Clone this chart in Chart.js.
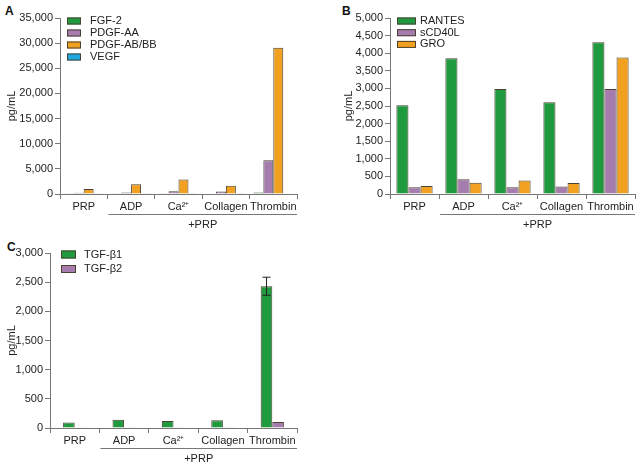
<!DOCTYPE html>
<html>
<head>
<meta charset="utf-8">
<script src="https://cdn.jsdelivr.net/npm/chart.js@4.4.1/dist/chart.umd.min.js"></script>
<style>
body { margin:0; background:#fff; width:639px; height:464px; position:relative; overflow:hidden; font-family:'Liberation Sans', Arial, sans-serif; }
canvas { position:absolute; }
.tag { position:absolute; font-weight:bold; font-size:12px; line-height:14px; color:#111; }
</style>
</head>
<body>
<div class="tag" style="left:5px;top:4px">A</div>
<div class="tag" style="left:342px;top:4px">B</div>
<div class="tag" style="left:7px;top:240px">C</div>
<canvas id="chartA" width="310" height="230" style="left:0;top:0"></canvas>
<canvas id="chartB" width="319" height="230" style="left:320px;top:0"></canvas>
<canvas id="chartC" width="310" height="234" style="left:0;top:230px"></canvas>
<script>
// categories shared by all three panels
var categories = ['PRP', 'ADP', 'Ca\u00B2\u207A', 'Collagen', 'Thrombin'];

// panel A
var fgf2 = [50, 60, 70, 80, 320];
var pdgfAA = [250, 300, 550, 520, 6700];
var pdgfABBB = [1000, 1950, 2900, 1650, 29100];
var vegf = [40, 50, 50, 60, 120];

// panel B
var rantes = [2520, 3860, 2980, 2610, 4310];
var scd40l = [190, 420, 190, 210, 2980];
var gro = [230, 320, 380, 310, 3880];

// panel C
var tgfb1 = [95, 140, 120, 135, 2430];
var tgfb1Err = [0, 0, 0, 0, 155];
var tgfb2 = [15, 15, 12, 12, 105];

var GREEN = '#1f9a3f', PURPLE = '#a67bae', ORANGE = '#f1a11f', BLUE = '#1fa9e1';
var EDGE = '#4a4232';
var AXIS = '#777';
var TEXT = '#222';

Chart.defaults.font.family = "'Liberation Sans', Arial, sans-serif";
Chart.defaults.font.size = 11;
Chart.defaults.color = TEXT;

function ds(label, data, color) {
    return { label: label, data: data, backgroundColor: color, borderColor: EDGE, borderWidth: 1 };
}

// legend drawn inside the plot, top left, small flat boxes
function boxLegend(cfg) {
    return {
        id: 'boxLegend',
        afterDraw: function(chart) {
            var ctx = chart.ctx, area = chart.chartArea;
            ctx.save();
            ctx.font = "11px 'Liberation Sans', Arial, sans-serif";
            ctx.textBaseline = 'middle';
            chart.data.datasets.forEach(function(d, i) {
                var cy = area.top + cfg.rowY + i * cfg.gap;
                var bx = area.left + cfg.boxX;
                ctx.fillStyle = d.backgroundColor;
                ctx.fillRect(bx, cy - cfg.boxH / 2, cfg.boxW, cfg.boxH);
                ctx.strokeStyle = EDGE;
                ctx.lineWidth = 1;
                ctx.strokeRect(bx + 0.5, cy - cfg.boxH / 2 + 0.5, cfg.boxW - 1, cfg.boxH - 1);
                ctx.fillStyle = TEXT;
                ctx.fillText(d.label, area.left + cfg.textX, cy);
            });
            ctx.restore();
        }
    };
}

// line under the stimulated groups with "+PRP"
var prpBracket = {
    id: 'prpBracket',
    afterDraw: function(chart) {
        var ctx = chart.ctx, area = chart.chartArea, x = chart.scales.x;
        var half = (x.getPixelForValue(1) - x.getPixelForValue(0)) / 2;
        var x0 = x.getPixelForValue(1) - half + 1;
        var x1 = area.right;
        var y = Math.round(area.bottom + 20) + 0.5;
        ctx.save();
        ctx.strokeStyle = AXIS;
        ctx.lineWidth = 1;
        ctx.beginPath();
        ctx.moveTo(x0, y);
        ctx.lineTo(x1, y);
        ctx.stroke();
        ctx.fillStyle = TEXT;
        ctx.font = "11px 'Liberation Sans', Arial, sans-serif";
        ctx.textAlign = 'center';
        ctx.textBaseline = 'middle';
        ctx.fillText('+PRP', (x0 + x1) / 2, y + 10);
        ctx.restore();
    }
};

// error bars from a dataset's "errors" array
var errorBars = {
    id: 'errorBars',
    afterDatasetsDraw: function(chart) {
        var ctx = chart.ctx, yScale = chart.scales.y;
        chart.data.datasets.forEach(function(d, i) {
            if (!d.errors) return;
            var meta = chart.getDatasetMeta(i);
            meta.data.forEach(function(bar, j) {
                var e = d.errors[j];
                if (!e) return;
                var top = yScale.getPixelForValue(d.data[j] + e);
                var bot = yScale.getPixelForValue(d.data[j] - e);
                var bx = Math.round(bar.x) + 0.5;
                ctx.save();
                ctx.strokeStyle = '#222';
                ctx.lineWidth = 1;
                ctx.beginPath();
                ctx.moveTo(bx, top); ctx.lineTo(bx, bot);
                ctx.moveTo(bx - 4, top); ctx.lineTo(bx + 4, top);
                ctx.moveTo(bx - 4, bot); ctx.lineTo(bx + 4, bot);
                ctx.stroke();
                ctx.restore();
            });
        });
    }
};

function scales(max, step, yWidth, xHeight, titlePad) {
    return {
        x: {
            grid: { display: true, drawOnChartArea: false, drawTicks: true, tickLength: 5, color: AXIS, offset: true },
            border: { color: AXIS },
            ticks: { autoSkip: false, maxRotation: 0, padding: 1, color: TEXT },
            afterFit: function(s) { s.height = xHeight; }
        },
        y: {
            min: 0, max: max,
            grid: { drawOnChartArea: false, tickLength: 5, color: AXIS },
            border: { color: AXIS },
            ticks: { stepSize: step, padding: 2, color: TEXT },
            title: { display: true, text: 'pg/mL', color: TEXT, padding: { top: titlePad, bottom: 0 } },
            afterFit: function(s) { s.width = yWidth; }
        }
    };
}

function baseOptions(sc, pad, catPct) {
    return {
        responsive: false,
        animation: false,
        layout: { padding: pad },
        categoryPercentage: catPct,
        barPercentage: 1,
        plugins: { legend: { display: false }, tooltip: { enabled: false } },
        scales: sc
    };
}

new Chart(document.getElementById('chartA'), {
    type: 'bar',
    data: {
        labels: categories,
        datasets: [ds('FGF-2', fgf2, GREEN), ds('PDGF-AA', pdgfAA, PURPLE),
                   ds('PDGF-AB/BB', pdgfABBB, ORANGE), ds('VEGF', vegf, BLUE)]
    },
    options: baseOptions(scales(35000, 5000, 60, 36, 5), { top: 18, right: 13, left: 0, bottom: 0 }, 0.84),
    plugins: [boxLegend({ boxX: 7, boxW: 14, boxH: 7, textX: 30, rowY: 3, gap: 12 }), prpBracket]
});

new Chart(document.getElementById('chartB'), {
    type: 'bar',
    data: {
        labels: categories,
        datasets: [ds('RANTES', rantes, GREEN), ds('sCD40L', scd40l, PURPLE), ds('GRO', gro, ORANGE)]
    },
    options: baseOptions(scales(5000, 500, 70, 36, 22), { top: 18, right: 4, left: 0, bottom: 0 }, 0.74),
    plugins: [boxLegend({ boxX: 7, boxW: 19, boxH: 7, textX: 30, rowY: 3, gap: 11.7 }), prpBracket]
});

var tgfb1Set = ds('TGF-\u03B21', tgfb1, GREEN);
tgfb1Set.errors = tgfb1Err;

new Chart(document.getElementById('chartC'), {
    type: 'bar',
    data: {
        labels: categories,
        datasets: [tgfb1Set, ds('TGF-\u03B22', tgfb2, PURPLE)]
    },
    options: baseOptions(scales(3000, 500, 50, 36, 5), { top: 23, right: 13, left: 0, bottom: 0 }, 0.47),
    plugins: [boxLegend({ boxX: 11, boxW: 15, boxH: 8, textX: 34, rowY: 1.5, gap: 14.5 }), prpBracket, errorBars]
});
</script>
</body>
</html>
